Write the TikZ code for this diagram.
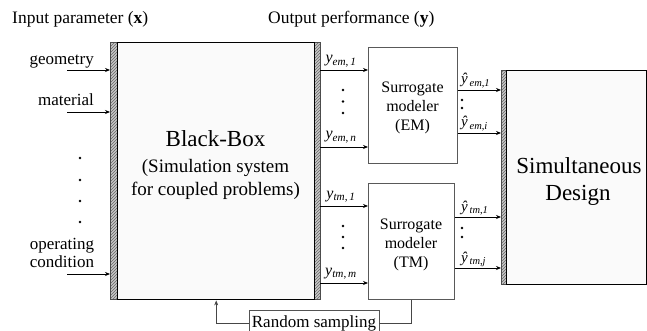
\documentclass[tikz,border=0pt]{standalone}
\usepackage{fontspec}
\setmainfont{Liberation Serif}
\usetikzlibrary{arrows.meta,patterns}
\newcommand\ylab[2]{\textit{y}\textsubscript{\textit{#1},\,\textit{#2}}}
\newcommand\yhlab[2]{\textit{\^{y}}\textsubscript{\,\textit{#1},\textit{#2}}}
\tikzset{
  stripbox/.style={preaction={fill=gray!45}, pattern=north east lines, pattern color=gray!80!black, draw=gray!60!black, line width=0.4pt, inner sep=0pt, anchor=north west},
  bigbox/.style={draw=black, line width=1.4pt, fill=gray!4, inner sep=0pt, anchor=north west},
  surbox/.style={draw=gray!70!black, line width=0.7pt, fill=white, inner sep=0pt, anchor=north west},
  rsbox/.style={draw=gray!65!black, line width=0.7pt, fill=white, inner sep=0pt},
  arr/.style={-{Stealth[length=5pt,width=4pt]}, line width=0.8pt, black},
  conn/.style={draw=gray!55!black, line width=0.7pt},
  dotn/.style={circle, fill=black, inner sep=0pt, minimum size=2.8pt},
  lab/.style={font=\fontsize{17}{18}\selectfont, inner sep=0pt},
  hdr/.style={font=\fontsize{17.5}{19}\selectfont, inner sep=0pt, anchor=base west},
  big/.style={font=\fontsize{23}{25}\selectfont, inner sep=0pt, anchor=base},
  mid/.style={font=\fontsize{19}{22}\selectfont, inner sep=0pt, anchor=base},
  sur/.style={font=\fontsize{16}{19}\selectfont, inner sep=0pt, anchor=base},
  ylb/.style={font=\fontsize{16}{18}\selectfont, inner sep=0pt, anchor=base},
  yhl/.style={font=\fontsize{15}{18}\selectfont, inner sep=0pt, anchor=base west},
}
\begin{document}
\begin{tikzpicture}[x=1pt,y=-1pt]
\useasboundingbox (0,0) rectangle (647,331);

% headers
\node[hdr] (hin) at (12,24) {Input parameter (\textbf{x})};
\node[hdr] (hout) at (268,24) {Output performance (\textbf{y})};

% black box
\node[stripbox, minimum width=7pt, minimum height=257pt] (bbL) at (110,42) {};
\node[stripbox, minimum width=6pt, minimum height=257pt] (bbR) at (314,42) {};
\node[bigbox, minimum width=197pt, minimum height=257pt] (bb) at (117,42) {};
\node[big] (bbt1) at (215.5,147) {Black-Box};
\node[mid] (bbt2) at (215.5,172) {(Simulation system};
\node[mid] (bbt3) at (215.5,195) {for coupled problems)};

% surrogate boxes
\node[surbox, minimum width=89pt, minimum height=116pt] (em) at (368,47) {};
\node[sur] (emt1) at (412.5,93) {Surrogate};
\node[sur] (emt2) at (412.5,112) {modeler};
\node[sur] (emt3) at (412.5,131) {(EM)};
\node[surbox, minimum width=86pt, minimum height=116pt] (tm) at (368,183) {};
\node[sur] (tmt1) at (411,229) {Surrogate};
\node[sur] (tmt2) at (411,248) {modeler};
\node[sur] (tmt3) at (411,267) {(TM)};

% simultaneous design
\node[stripbox, minimum width=5pt, minimum height=214pt] (sdL) at (501,70) {};
\node[bigbox, minimum width=140pt, minimum height=214pt] (sd) at (506,70) {};
\node[big] (sdt1) at (579,173) {Simultaneous};
\node[big] (sdt2) at (578,200) {Design};

% random sampling
\node[rsbox, minimum width=130pt, minimum height=26pt] (rs) at (314,323) {};
\node[lab, anchor=base] (rst) at (314,327) {Random sampling};

% input arrows
\coordinate (ig) at (67,70);
\coordinate (im) at (67,112);
\coordinate (io) at (67,274);
\draw[arr] (ig) -- (ig -| bbL.west);
\draw[arr] (im) -- (im -| bbL.west);
\draw[arr] (io) -- (io -| bbL.west);
\node[lab, anchor=base east] (lg) at (94,65) {geometry};
\node[lab, anchor=base east] (lm) at (94,106) {material};
\node[lab, anchor=base] (lo1) at (62,249) {operating};
\node[lab, anchor=base] (lo2) at (62,267) {condition};
\node[dotn] (id1) at (80,158) {};
\node[dotn] (id2) at (80,180) {};
\node[dotn] (id3) at (80,201) {};
\node[dotn] (id4) at (80,222) {};

% outputs of black box
\coordinate (ye1) at (0,70);
\coordinate (yen) at (0,147);
\coordinate (yt1) at (0,206);
\coordinate (ytm) at (0,283);
\draw[arr] (bbR.east |- ye1) -- (em.west |- ye1);
\draw[arr] (bbR.east |- yen) -- (em.west |- yen);
\draw[arr] (bbR.east |- yt1) -- (tm.west |- yt1);
\draw[arr] (bbR.east |- ytm) -- (tm.west |- ytm);
\node[ylb] (lye1) at (341,63) {\ylab{em}{1}};
\node[ylb] (lyen) at (341,139) {\ylab{em}{n}};
\node[ylb] (lyt1) at (341,198) {\ylab{tm}{1}};
\node[ylb] (lytm) at (341,275) {\ylab{tm}{m}};
\node[dotn] (od1) at (343,90) {};
\node[dotn] (od2) at (343,101.5) {};
\node[dotn] (od3) at (343,113) {};
\node[dotn] (od4) at (343,226) {};
\node[dotn] (od5) at (343,237) {};
\node[dotn] (od6) at (343,248) {};

% surrogate outputs
\coordinate (he1) at (0,90);
\coordinate (hei) at (0,133);
\coordinate (ht1) at (0,217);
\coordinate (htj) at (0,268);
\draw[arr] (em.east |- he1) -- (sdL.west |- he1);
\draw[arr] (em.east |- hei) -- (sdL.west |- hei);
\draw[arr] (tm.east |- ht1) -- (sdL.west |- ht1);
\draw[arr] (tm.east |- htj) -- (sdL.west |- htj);
\node[yhl] (lhe1) at (461,84) {\yhlab{em}{1}};
\node[yhl] (lhei) at (461,127) {\yhlab{em}{i}};
\node[yhl] (lht1) at (461,211) {\yhlab{tm}{1}};
\node[yhl] (lhtj) at (461,262) {\yhlab{tm}{j}};
\node[dotn] (sd1) at (462,100) {};
\node[dotn] (sd2) at (462,108) {};
\node[dotn] (sd3) at (462,228) {};
\node[dotn] (sd4) at (462,237) {};

% random sampling loop
\draw[conn] (tm.south) |- (rs.east);
\draw[conn, -{Stealth[length=5pt,width=4pt]}] (rs.west) -| (bb.south);
\end{tikzpicture}
\end{document}
